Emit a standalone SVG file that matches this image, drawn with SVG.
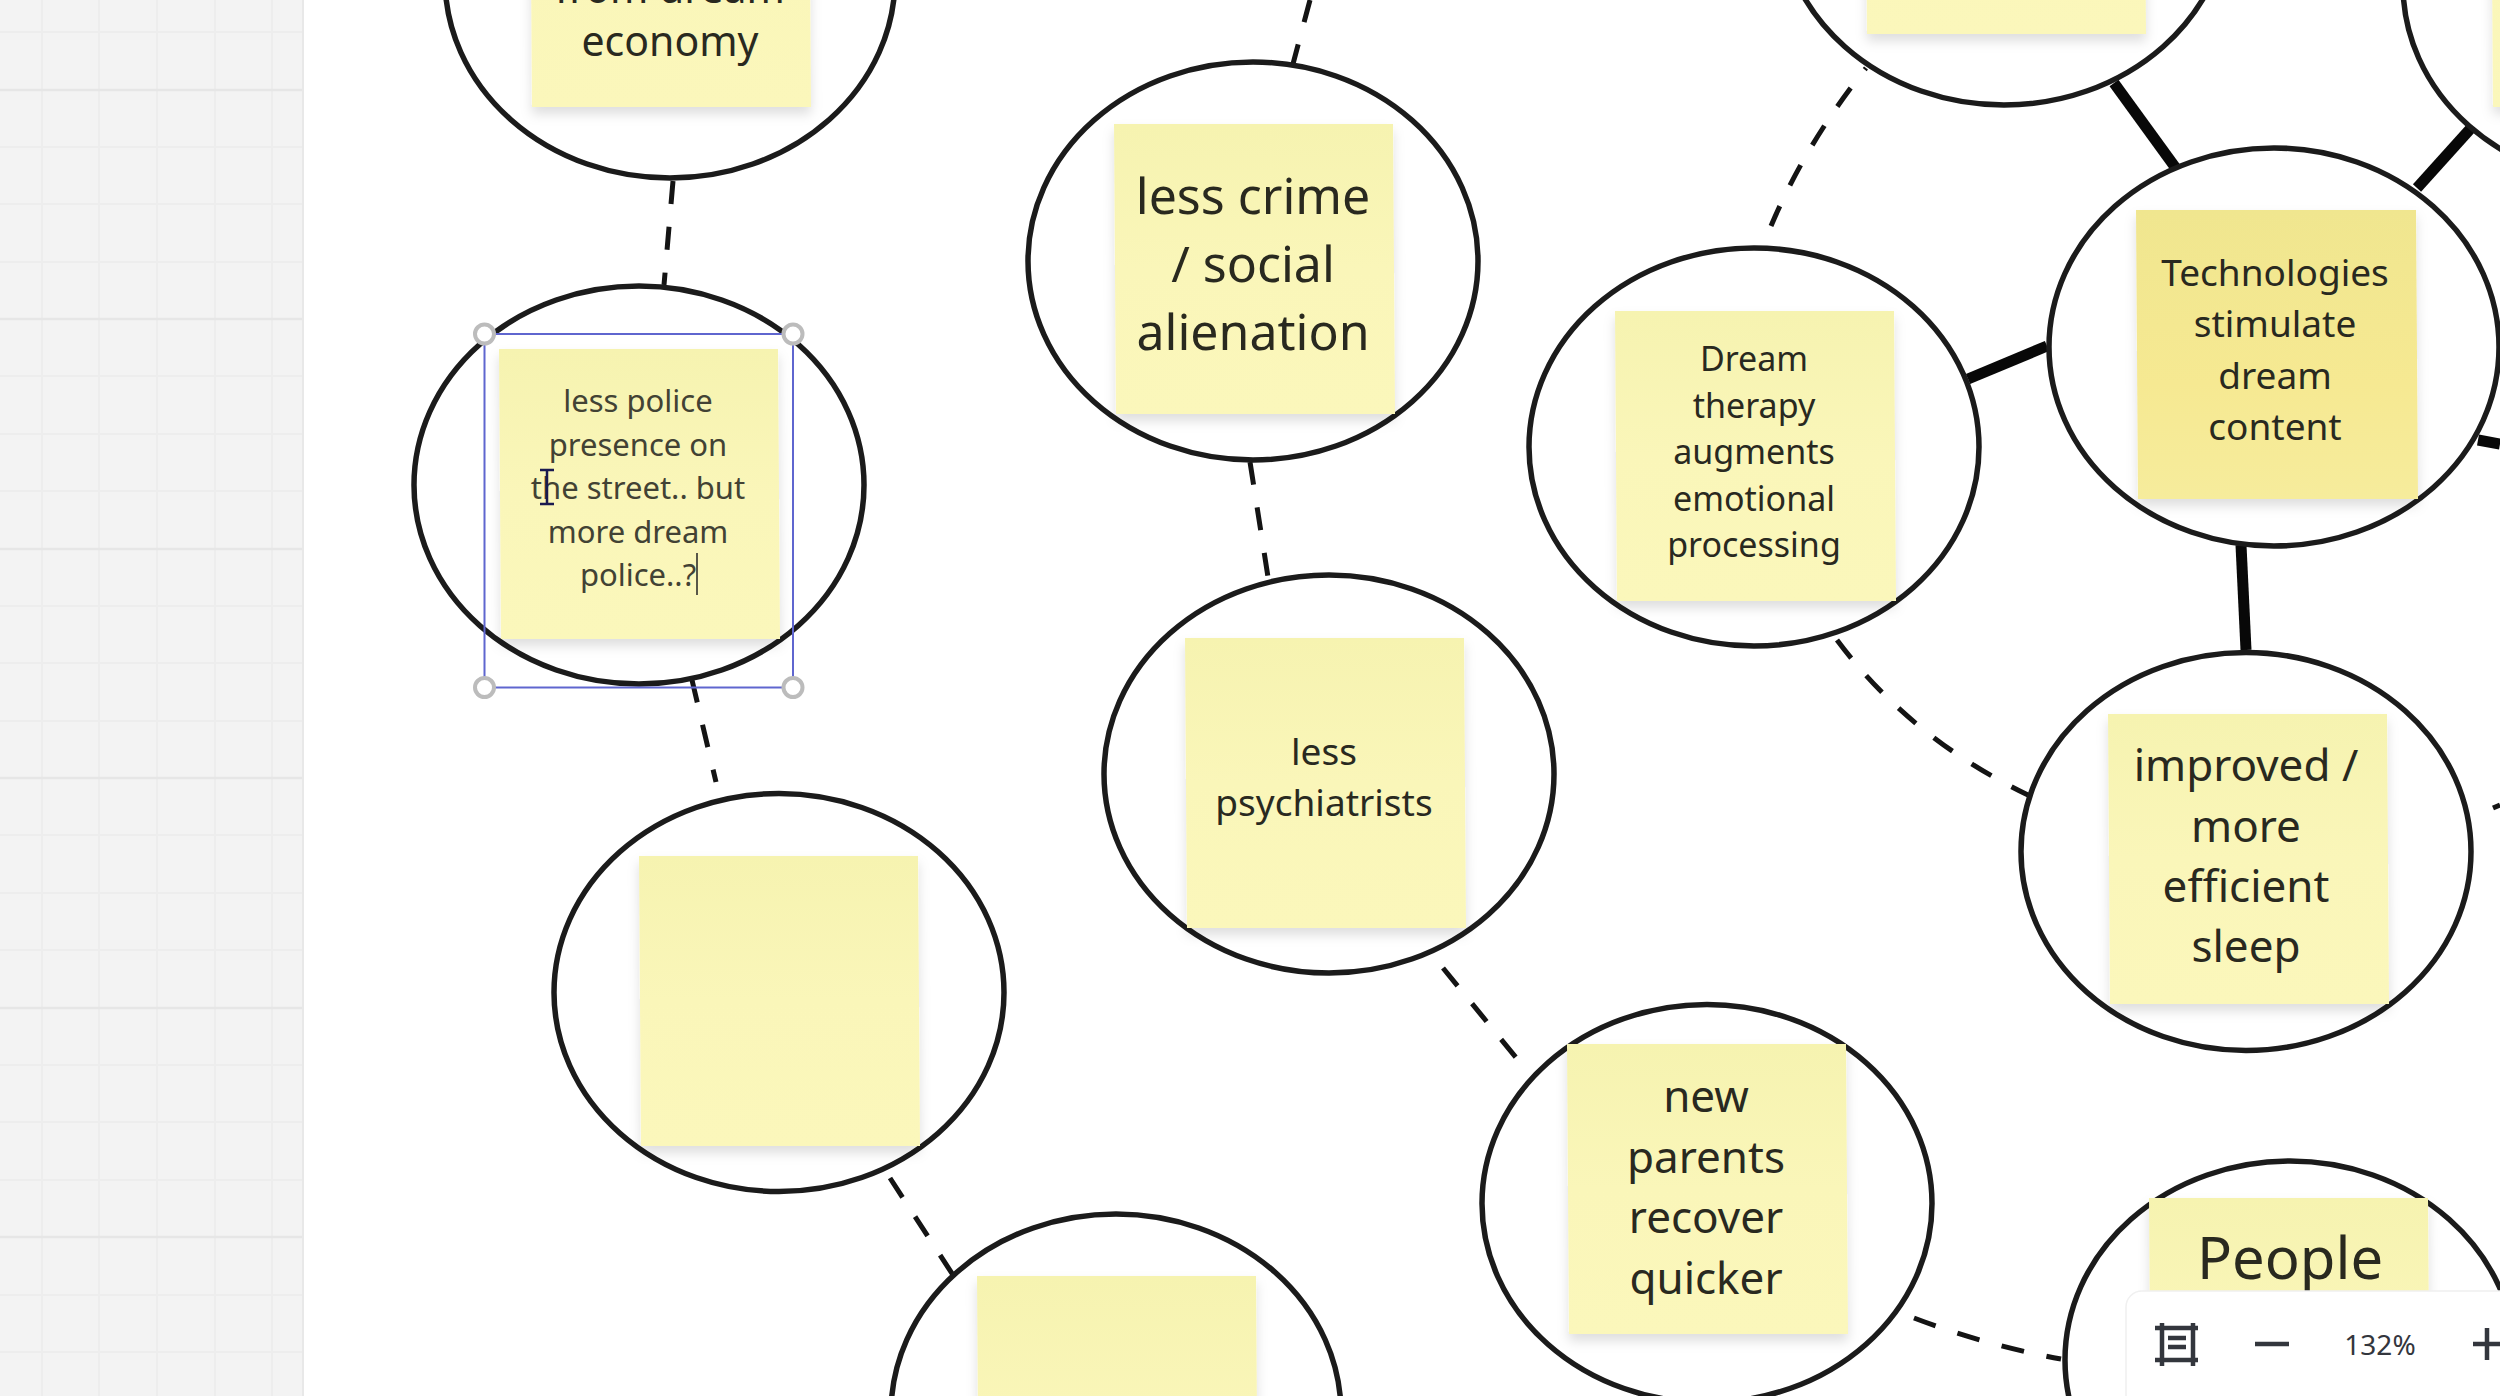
<svg xmlns="http://www.w3.org/2000/svg" width="2500" height="1396" viewBox="0 0 2500 1396">
<style>
.c{fill:#fff;stroke:#1b1b1b;stroke-width:5.5}
.d{fill:none;stroke:#141414;stroke-width:5;stroke-dasharray:23 23}
.s{fill:none;stroke:#080808;stroke-width:11}
.t{font-family:"Noto Sans","Open Sans",sans-serif;fill:#29291f;text-anchor:middle}
.g{stroke:#ececec;stroke-width:1.5}
.gs{stroke:#e6e6e6;stroke-width:2.5}
.h{fill:#fff;stroke:#bcbcbc;stroke-width:4}
.ui{fill:none;stroke:#33363d;stroke-width:4.5}
</style>
<defs>
<linearGradient id="ny" x1="0" y1="0" x2="0" y2="1"><stop offset="0" stop-color="#f6f3b0"/><stop offset="0.5" stop-color="#faf6b9"/><stop offset="1" stop-color="#fbf7bb"/></linearGradient>
<linearGradient id="nd" x1="0" y1="0" x2="0" y2="1"><stop offset="0" stop-color="#f0e68f"/><stop offset="0.6" stop-color="#f6e992"/><stop offset="1" stop-color="#f6ec9c"/></linearGradient>
<filter id="sh" x="-10%" y="-10%" width="120%" height="120%"><feDropShadow dx="0" dy="7" stdDeviation="6" flood-color="#000" flood-opacity="0.13"/></filter>
<polygon id="note" points="0,0 279,0 281,290 2,290" fill="url(#ny)" filter="url(#sh)"/>
</defs>
<rect width="2500" height="1396" fill="#fff"/>
<g id="sidebar">
<rect width="303" height="1396" fill="#f3f3f3"/>
<path class="g" d="M42,0V1396M99,0V1396M157,0V1396M215,0V1396M272,0V1396M0,32H303M0,147H303M0,204H303M0,262H303M0,376H303M0,434H303M0,491H303M0,606H303M0,663H303M0,721H303M0,835H303M0,893H303M0,950H303M0,1065H303M0,1122H303M0,1180H303M0,1295H303M0,1352H303"/>
<path class="gs" d="M0,90H303M0,319H303M0,549H303M0,778H303M0,1008H303M0,1237H303"/>
<path d="M303,0V1396" stroke="#e8e8e8" stroke-width="2"/>
</g>
<g id="connectors">
<path class="d" d="M673,181L664,285"/>
<path class="d" d="M692,680L716,782"/>
<path class="d" d="M1310,0L1293,64"/>
<path class="d" d="M1250,462L1268,577"/>
<path class="d" d="M1443,968L1518,1060"/>
<path class="d" d="M890,1178L953,1275"/>
<path class="d" stroke-dashoffset="21" d="M1866,68Q1805,145 1771,226"/>
<path class="d" d="M1837,640Q1910,738 2028,795"/>
<path class="d" d="M1914,1318Q1985,1345 2061,1359"/>
<path class="d" d="M2493,808L2500,805"/>
<path class="s" d="M2114,83L2175,167"/>
<path class="s" d="M2417,188L2472,127"/>
<path class="s" d="M1968,379L2047,346"/>
<path class="s" d="M2241,545L2246,650"/>
<path class="s" d="M2478,440L2500,444"/>
</g>
<g id="n-dream-economy">
<ellipse class="c" cx="670" cy="-21" rx="225" ry="199"/>
<use href="#note" x="530" y="-183"/>
<text class="t" font-size="41"><tspan x="670" y="3">from dream</tspan><tspan x="670" y="56">economy</tspan></text>
</g>
<g id="n-police">
<ellipse class="c" cx="639" cy="485" rx="225" ry="199"/>
<use href="#note" x="499" y="349"/>
<text class="t" font-size="31" style="fill:#424234"><tspan x="638" y="412">less police</tspan><tspan x="638" y="455.500">presence on</tspan><tspan x="638" y="499">the street.. but</tspan><tspan x="638" y="542.500">more dream</tspan><tspan x="638" y="586">police..?</tspan></text>
</g>
<g id="n-empty-1">
<ellipse class="c" cx="779" cy="992.500" rx="225" ry="199"/>
<use href="#note" x="639" y="856"/>
</g>
<g id="n-empty-2">
<ellipse class="c" cx="1116" cy="1413" rx="225" ry="199"/>
<use href="#note" x="977" y="1276"/>
</g>
<g id="n-crime">
<ellipse class="c" cx="1253" cy="261" rx="225" ry="199"/>
<use href="#note" x="1114" y="124"/>
<text class="t" font-size="50"><tspan x="1253" y="214">less crime</tspan><tspan x="1253" y="282">/ social</tspan><tspan x="1253" y="350">alienation</tspan></text>
</g>
<g id="n-psychiatrists">
<ellipse class="c" cx="1329" cy="774" rx="225" ry="199"/>
<use href="#note" x="1185" y="638"/>
<text class="t" font-size="37"><tspan x="1324" y="765">less</tspan><tspan x="1324" y="816">psychiatrists</tspan></text>
</g>
<g id="n-dream-therapy">
<ellipse class="c" cx="1754" cy="447" rx="225" ry="199"/>
<use href="#note" x="1615" y="311"/>
<text class="t" font-size="34"><tspan x="1754" y="371">Dream</tspan><tspan x="1754" y="417.500">therapy</tspan><tspan x="1754" y="464">augments</tspan><tspan x="1754" y="510.500">emotional</tspan><tspan x="1754" y="557">processing</tspan></text>
</g>
<g id="n-new-parents">
<ellipse class="c" cx="1707" cy="1203.500" rx="225" ry="199"/>
<use href="#note" x="1567" y="1044"/>
<text class="t" font-size="44"><tspan x="1706" y="1112">new</tspan><tspan x="1706" y="1172.500">parents</tspan><tspan x="1706" y="1233">recover</tspan><tspan x="1706" y="1293.500">quicker</tspan></text>
</g>
<g id="n-top-mid">
<ellipse class="c" cx="2004" cy="-94" rx="225" ry="199"/>
<use href="#note" x="1865" y="-256"/>
</g>
<g id="n-top-right">
<ellipse class="c" cx="2628" cy="-15" rx="225" ry="199"/>
<use href="#note" x="2491" y="-183"/>
</g>
<g id="n-technologies">
<ellipse class="c" cx="2274" cy="347" rx="225" ry="199"/>
<polygon points="2136,210 2416,210 2418,499 2138,499" fill="url(#nd)" filter="url(#sh)"/>
<text class="t" font-size="37"><tspan x="2275" y="286">Technologies</tspan><tspan x="2275" y="337">stimulate</tspan><tspan x="2275" y="388.500">dream</tspan><tspan x="2275" y="440">content</tspan></text>
</g>
<g id="n-sleep">
<ellipse class="c" cx="2246" cy="851.500" rx="225" ry="199"/>
<use href="#note" x="2108" y="714"/>
<text class="t" font-size="44"><tspan x="2246" y="781">improved /</tspan><tspan x="2246" y="842">more</tspan><tspan x="2246" y="902">efficient</tspan><tspan x="2246" y="962">sleep</tspan></text>
</g>
<g id="n-people">
<ellipse class="c" cx="2290" cy="1360" rx="225" ry="199"/>
<use href="#note" x="2149" y="1198"/>
<text class="t" font-size="58" x="2290" y="1279">People</text>
</g>
<g id="selection">
<rect x="484.500" y="334" width="308.500" height="353.500" fill="none" stroke="#5f66cf" stroke-width="2"/>
<circle class="h" cx="484.500" cy="334" r="9.500"/><circle class="h" cx="793" cy="334" r="9.500"/><circle class="h" cx="484.500" cy="687.500" r="9.500"/><circle class="h" cx="793" cy="687.500" r="9.500"/>
<path d="M697,553V595" stroke="#222" stroke-width="1.500"/>
<path d="M540,470H554M547,470V504M540,504H554" fill="none" stroke="#1a1a50" stroke-width="2.500"/>
</g>
<g id="toolbar">
<rect x="2126" y="1291" width="420" height="130" rx="16" fill="#fff" stroke="#f0f0f0" stroke-width="1.500"/>
<path class="ui" d="M2155,1328H2198M2155,1360H2198M2162,1323V1366M2193,1323V1366M2168,1338H2186M2168,1347H2186"/>
<path class="ui" d="M2255,1344H2289"/>
<text font-family="Noto Sans,sans-serif" font-size="28" fill="#33363d" text-anchor="middle" x="2380" y="1355">132%</text>
<path class="ui" d="M2473,1344H2500M2487,1328V1360"/>
</g>
</svg>
